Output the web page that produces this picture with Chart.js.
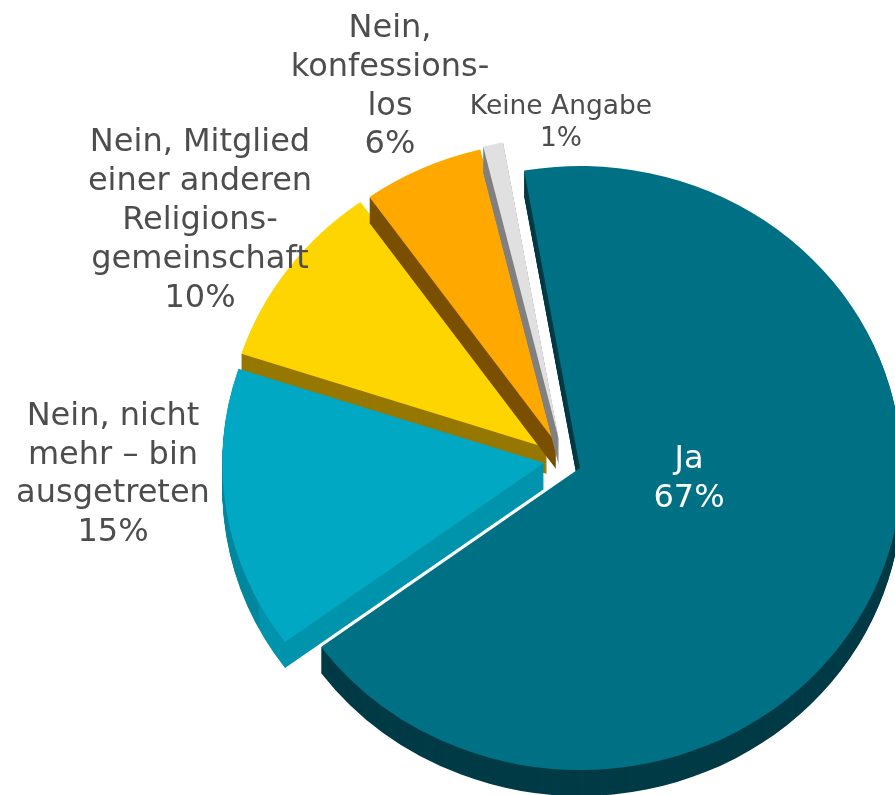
<!DOCTYPE html>
<html lang="de">
<head>
  <meta charset="UTF-8">
  <title>Kirchenmitgliedschaft</title>
  <script src="https://cdn.jsdelivr.net/npm/chart.js"></script>
  <style>
    html, body { margin: 0; padding: 0; background: #fff; overflow: hidden; }
    canvas { display: block; }
  </style>
</head>
<body>
  <canvas id="pieChart" width="895" height="795"></canvas>
  <script>
    // data, clockwise from the top edge of "Ja"
    const categories = ['Ja', 'Nein, nicht mehr – bin ausgetreten', 'Nein, Mitglied einer anderen Religionsgemeinschaft', 'Nein, konfessionslos', 'Keine Angabe'];
    const values = [67, 15, 10, 6, 1];
    const labelLines = [
      ['Ja', '67%'],
      ['Nein, nicht', 'mehr – bin', 'ausgetreten', '15%'],
      ['Nein, Mitglied', 'einer anderen', 'Religions-', 'gemeinschaft', '10%'],
      ['Nein,', 'konfessions-', 'los', '6%'],
      ['Keine Angabe', '1%']
    ];

    // colours
    const faceColors = ['#007084', '#00A8C3', '#FFD500', '#FFA800', '#E0E0E0'];
    const wallColors = ['#003B46', '#00879D', '#967800', '#7A5000', '#808080'];
    const cutWallBlue = '#0094AC';

    // layout
    const shifts = [[10, 6], [-26, 1], [-23, -14], [-14, -19], [-11, -22]];   // px each slice is pulled out
    const drawOrder = [2, 3, 4, 1, 0];           // back to front
    const depth = 26;
    const stretchX = 1.065;                      // pie is a bit wider than tall
    const labelStyle = [
      { x: 689, y: 460, step: 39, size: 32, color: '#ffffff' },
      { x: 113, y: 417, step: 38.5, size: 32, color: '#4d4d4d' },
      { x: 200, y: 143, step: 38.8, size: 32, color: '#4d4d4d' },
      { x: 390, y: 29, step: 38.7, size: 32, color: '#4d4d4d' },
      { x: 561, y: 107, step: 32, size: 26.5, color: '#4d4d4d' }
    ];

    // draw one arc element with another fill, shifted out of the centre
    function paintArc(ctx, arc, i, fill, dy) {
      const saved = arc.options;
      arc.options = Object.assign({}, saved, { backgroundColor: fill });
      ctx.save();
      ctx.translate(shifts[i][0] / stretchX, shifts[i][1] + dy);
      arc.draw(ctx);
      ctx.restore();
      arc.options = saved;
    }

    const extrudedPie = {
      id: 'extrudedPie',
      beforeDatasetDraw(chart, args) {
        const ctx = chart.ctx;
        const arcs = args.meta.data;
        ctx.save();
        ctx.translate(arcs[0].x, 0);
        ctx.scale(stretchX, 1);
        ctx.translate(-arcs[0].x, 0);
        drawOrder.forEach(i => {
          const arc = arcs[i];
          let wall = wallColors[i];
          if (i === 1) {
            // the cut face of the blue slice is lighter than its rim
            const cornerX = arc.x + shifts[i][0] / stretchX + Math.cos(arc.startAngle) * arc.outerRadius;
            const g = ctx.createLinearGradient(cornerX - 1, 0, cornerX + 1, 0);
            g.addColorStop(0, wallColors[i]);
            g.addColorStop(1, cutWallBlue);
            wall = g;
          }
          for (let d = depth; d > 0; d--) paintArc(ctx, arc, i, wall, d);
          paintArc(ctx, arc, i, faceColors[i], 0);
        });
        ctx.restore();
        return false;
      },
      afterDatasetsDraw(chart) {
        const ctx = chart.ctx;
        ctx.save();
        ctx.textAlign = 'center';
        ctx.textBaseline = 'middle';
        labelLines.forEach((lines, i) => {
          const s = labelStyle[i];
          ctx.font = s.size + 'px "DejaVu Sans"';
          ctx.fillStyle = s.color;
          lines.forEach((line, k) => ctx.fillText(line, s.x, s.y + k * s.step));
        });
        ctx.restore();
      }
    };

    new Chart(document.getElementById('pieChart'), {
      type: 'pie',
      data: {
        labels: categories,
        datasets: [{
          data: values,
          backgroundColor: faceColors,
          borderWidth: 0,
          radius: 302,
          clip: false
        }]
      },
      options: {
        responsive: false,
        animation: false,
        rotation: -10,
        layout: { padding: { left: 245, top: 129 } },
        plugins: { legend: { display: false }, tooltip: { enabled: false } }
      },
      plugins: [extrudedPie]
    });
  </script>
</body>
</html>
